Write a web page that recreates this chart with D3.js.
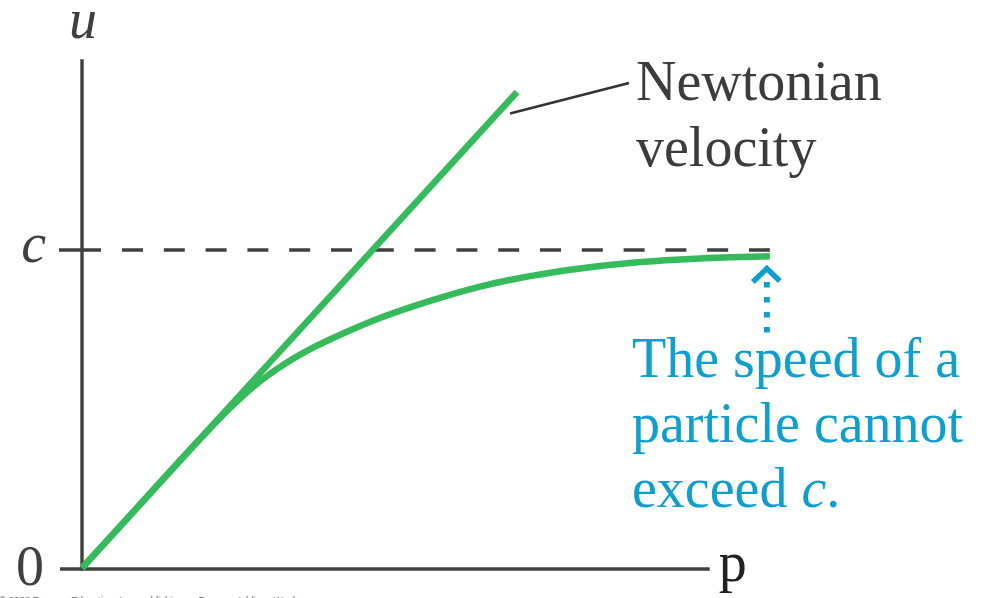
<!DOCTYPE html>
<html>
<head>
<meta charset="utf-8">
<script src="https://cdn.jsdelivr.net/npm/d3@7"></script>
<style>
  html, body { margin: 0; padding: 0; background: #fff; }
  svg { display: block; }
  .serif { font-family: "Liberation Serif", "Tinos", "Times New Roman", "DejaVu Serif", serif; }
</style>
</head>
<body>
<script>
// ---- data (p in units of mc, u in units of c) ----
const newtonP = [0, 1.497];
const newtonU = [0, 1.497];
const relP = [0, 0.2, 0.4, 0.5, 0.6, 0.7, 0.8, 0.9, 1.025, 1.198, 1.370, 1.542, 1.714, 1.886, 2.058, 2.230, 2.367];
const relU = [0, 0.2, 0.4, 0.495, 0.578, 0.643, 0.695, 0.738, 0.786, 0.840, 0.885, 0.918, 0.942, 0.959, 0.970, 0.977, 0.980];
const yTickValues = [0, 1];
const yTickLabels = ["0", "c"];
const axisLabels = { x: "p", y: "u" };
const newtonLabel = ["Newtonian", "velocity"];
const noteLines = ["The speed of a", "particle cannot", "exceed "];
const copyright = "\u00A9 2008 Pearson Education, Inc., publishing as Pearson Addison Wesley";
const pAxisMax = 2.16;
const uAxisMax = 1.6;
const limitLineMaxP = 2.367;

const W = 992, H = 598;
const svg = d3.select("body").append("svg").attr("width", W).attr("height", H);

const x = d3.scaleLinear().domain([0, 1]).range([82, 372.6]);
const y = d3.scaleLinear().domain([0, 1]).range([568, 250]);

const axisColor = "#404040";
const green = "#35bb5c";
const blue = "#0f9fcf";

// axes
const yAxisX = x(0);
svg.append("line")
  .attr("x1", yAxisX).attr("x2", yAxisX)
  .attr("y1", y(uAxisMax)).attr("y2", y(0) + 2.5)
  .attr("stroke", axisColor).attr("stroke-width", 3.4);
svg.append("line")
  .attr("x1", x(0) - 22).attr("x2", x(pAxisMax))
  .attr("y1", y(0) + 1).attr("y2", y(0) + 1)
  .attr("stroke", axisColor).attr("stroke-width", 3.4);

// c tick
svg.append("line")
  .attr("x1", x(0) - 23).attr("x2", x(0) + 19)
  .attr("y1", y(1)).attr("y2", y(1))
  .attr("stroke", axisColor).attr("stroke-width", 3.6);

// dashed c line
svg.append("line")
  .attr("x1", x(0) + 40).attr("x2", x(limitLineMaxP))
  .attr("y1", y(1)).attr("y2", y(1))
  .attr("stroke", axisColor).attr("stroke-width", 3.6)
  .attr("stroke-dasharray", "21 20.8");

// tick labels
svg.append("text").attr("class", "serif")
  .attr("x", 30).attr("y", 585)
  .attr("text-anchor", "middle")
  .attr("font-size", 56)
  .attr("fill", axisColor)
  .text(yTickLabels[0]);
svg.append("text").attr("class", "serif")
  .attr("x", 46).attr("y", y(1) + 12)
  .attr("text-anchor", "end")
  .attr("font-style", "italic").attr("font-size", 56)
  .attr("fill", axisColor)
  .text(yTickLabels[1]);

// axis labels
svg.append("text").attr("class", "serif")
  .attr("x", yAxisX + 1).attr("y", 38)
  .attr("text-anchor", "middle")
  .attr("font-style", "italic").attr("font-size", 56)
  .attr("fill", axisColor)
  .text(axisLabels.y);
svg.append("text").attr("class", "serif")
  .attr("x", x(pAxisMax) + 9).attr("y", 581)
  .attr("font-size", 56)
  .attr("fill", "#222")
  .text(axisLabels.x);

// curves
const line = d3.line().x(d => x(d[0])).y(d => y(d[1]));
svg.append("path")
  .attr("d", line(newtonP.map((p, i) => [p, newtonU[i]])))
  .attr("fill", "none").attr("stroke", green).attr("stroke-width", 6.5);
const curve = d3.line().x(d => x(d[0])).y(d => y(d[1])).curve(d3.curveMonotoneX);
svg.append("path")
  .attr("d", curve(relP.map((p, i) => [p, relU[i]])))
  .attr("fill", "none").attr("stroke", green).attr("stroke-width", 6.5);

// leader line for Newtonian label
svg.append("line")
  .attr("x1", 510).attr("y1", 113.5)
  .attr("x2", 629).attr("y2", 83)
  .attr("stroke", "#333").attr("stroke-width", 2.4);

// Newtonian label
newtonLabel.forEach((t, i) => {
  svg.append("text").attr("class", "serif")
    .attr("x", 636).attr("y", 100 + i * 66)
    .attr("font-size", 56)
    .attr("fill", "#3c3c3c")
    .text(t);
});

// dotted arrow pointing to curve end
const ax = x(limitLineMaxP) - 3;
svg.append("line")
  .attr("x1", ax).attr("x2", ax)
  .attr("y1", 282).attr("y2", 333)
  .attr("stroke", blue).attr("stroke-width", 6)
  .attr("stroke-dasharray", "5.5 9.5");
svg.append("path")
  .attr("d", `M${ax - 14},${282} L${ax},${268.5} L${ax + 13},${281}`)
  .attr("fill", "none").attr("stroke", blue).attr("stroke-width", 5.5)
  .attr("stroke-linejoin", "miter");

// note text
noteLines.forEach((t, i) => {
  const tx = svg.append("text").attr("class", "serif")
    .attr("x", 632).attr("y", 377 + i * 65)
    .attr("font-size", 56)
    .attr("fill", blue)
    .text(t);
  if (i === noteLines.length - 1) {
    tx.append("tspan").attr("font-style", "italic").text("c");
    tx.append("tspan").text(".");
  }
});

// copyright
svg.append("text")
  .attr("x", -1).attr("y", 603)
  .attr("font-family", "'Liberation Sans', Arial, sans-serif").attr("font-size", 9.6)
  .attr("fill", "#666")
  .text(copyright);
</script>
</body>
</html>
